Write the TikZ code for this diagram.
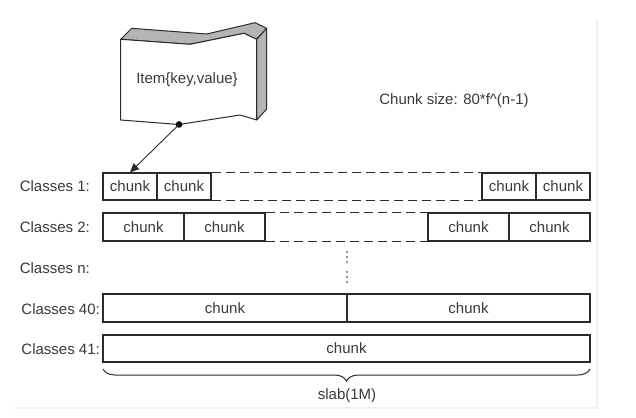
\documentclass[tikz,border=0pt]{standalone}
\usepackage{fontspec}
\setmainfont{Liberation Sans}
\usetikzlibrary{arrows.meta,decorations.pathreplacing}
\definecolor{ink}{HTML}{2B2B2B}
\definecolor{txt}{HTML}{3A3A3A}
\definecolor{side}{HTML}{B4B4B4}
\definecolor{frame}{HTML}{F0F0F0}
\tikzset{
  lbl/.style={font=\fontsize{15}{17}\selectfont, text=txt, inner sep=0pt},
  chunkbox/.style={draw=ink, line width=1.1pt, inner sep=0pt, font=\fontsize{15}{17}\selectfont, text=txt},
  dashline/.style={draw=ink, line width=1.1pt, dash pattern=on 9pt off 5pt},
  shapeline/.style={draw=ink, line width=1pt, line join=round},
}
\begin{document}
\begin{tikzpicture}[x=1pt,y=-1pt]
\useasboundingbox (0,0) rectangle (636,417);
\fill[white] (0,0) rectangle (636,417);
% faint frame
\draw[frame, line width=1.5pt] (15,408) -- (597,408) -- (597,20);

% item shape
\filldraw[shapeline, fill=side] (120.7,39.3) -- (131.7,28.3) -- (206.7,34) -- (255,22.7) -- (266.7,28.3) -- (256.7,39.3) -- (244,33.3) -- (190,44.3) -- cycle;
\filldraw[shapeline, fill=side] (256.7,39.3) -- (266.7,28.3) -- (266.7,109) -- (256.7,120) -- cycle;
\filldraw[shapeline, fill=white] (120.7,39.3) -- (190,44.3) -- (244,33.3) -- (256.7,39.3) -- (256.7,120) -- (240,115) -- (179,124.5) -- (120.7,120) -- cycle;
\node[lbl] (item) at (187,80) {Item\{key,value\}};
\coordinate (dot) at (179,124.5);
\fill[black] (dot) circle (3.3pt);

\node[lbl] (size) at (454,101) {Chunk size: 80*f\textasciicircum(n-1)};

% row 1
\node[chunkbox, minimum width=54pt, minimum height=27pt] (c11) at (130,186.5) {chunk};
\node[chunkbox, minimum width=54pt, minimum height=27pt] (c12) at (184,186.5) {chunk};
\node[chunkbox, minimum width=54pt, minimum height=27pt] (c13) at (509,186.5) {chunk};
\node[chunkbox, minimum width=54pt, minimum height=27pt] (c14) at (563,186.5) {chunk};
\draw[dashline] (c12.north east) -- (c13.north west);
\draw[dashline] (c12.south east) -- (c13.south west);

% row 2
\node[chunkbox, minimum width=81pt, minimum height=28pt] (c21) at (143.5,227) {chunk};
\node[chunkbox, minimum width=81pt, minimum height=28pt] (c22) at (224.5,227) {chunk};
\node[chunkbox, minimum width=81pt, minimum height=28pt] (c23) at (468.5,227) {chunk};
\node[chunkbox, minimum width=81pt, minimum height=28pt] (c24) at (549.5,227) {chunk};
\draw[dashline] (c22.north east) -- (c23.north west);
\draw[dashline] (c22.south east) -- (c23.south west);

% row 40
\node[chunkbox, minimum width=244pt, minimum height=28pt] (c401) at (225,308) {chunk};
\node[chunkbox, minimum width=243pt, minimum height=28pt] (c402) at (468.5,308) {chunk};

% row 41
\node[chunkbox, minimum width=487pt, minimum height=27pt] (c41) at (346.5,348.5) {chunk};

% vertical dots
\foreach \yy in {252,257,262,272,277,282} \fill[ink] (347,\yy) circle (0.9pt);

% labels
\node[lbl, anchor=east] (l1) at (90,186.5) {Classes 1:};
\node[lbl, anchor=east] (l2) at (90,227) {Classes 2:};
\node[lbl, anchor=east] (ln) at (90,268) {Classes n:};
\node[lbl, anchor=east] (l40) at (100,309) {Classes 40:};
\node[lbl, anchor=east] (l41) at (100,349) {Classes 41:};

% arrow
\draw[ink, line width=0.9pt, -{Triangle[length=9pt,width=8pt]}] (dot) -- (c11.north);

% brace
\coordinate (bl) at (103,369);
\coordinate (br) at (590,369);
\draw[ink, line width=1pt, decorate, decoration={brace, mirror, amplitude=12pt}] (bl) -- (br);
\node[lbl] (slab) at (347,396) {slab(1M)};
\end{tikzpicture}
\end{document}
